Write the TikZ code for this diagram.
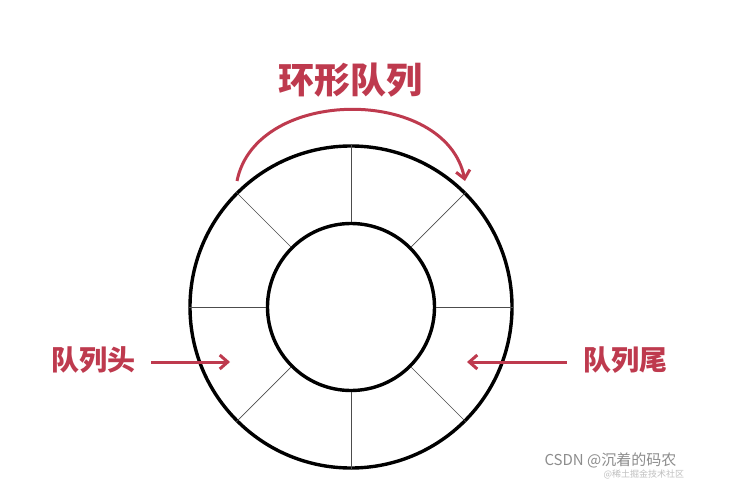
\documentclass[tikz,border=0pt]{standalone}
\usepackage{fontspec}
\newfontfamily\cjk{Noto Sans CJK SC}
\usetikzlibrary{arrows.meta}
\definecolor{qred}{RGB}{190,58,78}
\begin{document}
\begin{tikzpicture}[x=1pt, y=-1pt]
\tikzset{ qarrow/.style={qred, line width=3pt, -{Straight Barb[length=8pt, width=14pt, line width=3pt]}},
  ring/.style={draw, circle, line width=3.4pt, inner sep=0pt},
  spoke/.style={line width=0.7pt, black!70},
  qlabel/.style={qred, font=\cjk\bfseries, inner sep=0pt},
}
\useasboundingbox (0,0) rectangle (730,481);
%\draw [lightgray, dashed](0,0) grid[step=50] (730,481);

\node [ring, minimum size=322pt] (outer) at (351,307) {};
\node [ring, minimum size=167pt] (inner) at (351,307) {};

\foreach \a in {0,45,...,315}
  \draw [spoke] (inner.\a) -- (outer.\a);

\node [qlabel, font=\cjk\bfseries\fontsize{36}{36}\selectfont] (title) at (350,80) {环形队列};
\node [qlabel, font=\cjk\bfseries\fontsize{28}{28}\selectfont] (head) at (93,360) {队列头};
\node [qlabel, font=\cjk\bfseries\fontsize{28}{28}\selectfont] (tail) at (625,360) {队列尾};

\coordinate (arcstart) at (237,181);
\coordinate (arcend)   at (465,181);
\coordinate (headtip)  at (230,362);
\coordinate (tailtip)  at (467,362);

\draw [qarrow] (arcstart) .. controls (256,86) and (446,86) .. (arcend);
\draw [qarrow, shorten <=16pt] (head.east |- headtip) -- (headtip);
\draw [qarrow, shorten <=16pt] (tail.west |- tailtip) -- (tailtip);

\node [black!45, font=\cjk\fontsize{15}{15}\selectfont, anchor=west] (mark) at (541,460) {CSDN @沉着的码农};
\node [black!25, font=\cjk\fontsize{9}{9}\selectfont, anchor=west] (mark2) at (600,474) {@稀土掘金技术社区};

\end{tikzpicture}
\end{document}
